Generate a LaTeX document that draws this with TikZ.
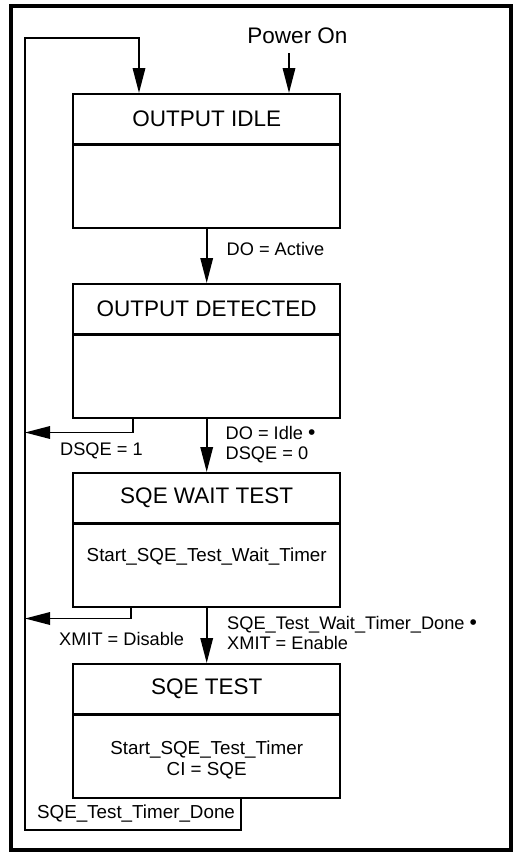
\documentclass[tikz,border=0pt]{standalone}
\usepackage{fontspec}
\setmainfont{Liberation Sans}
\usetikzlibrary{arrows.meta,calc}
\begin{document}
\begin{tikzpicture}[x=1pt,y=-1pt,
  titlebox/.style={draw,line width=1.7pt,minimum width=267pt,minimum height=50pt,inner sep=0pt,anchor=north,font=\fontsize{22.5}{26}\selectfont},
  bodybox/.style={draw,line width=1.7pt,minimum width=267pt,minimum height=82.5pt,inner sep=0pt,anchor=north},
  lbl/.style={inner sep=0pt,anchor=west,align=left,font=\fontsize{18.2}{20}\selectfont},
  txt/.style={inner sep=0pt,align=center,font=\fontsize{18.8}{21}\selectfont},
  arr/.style={line width=1.7pt,-{Triangle[length=25pt,width=12.5pt]}},
  dotmark/.style={}
]
\useasboundingbox (0,0) rectangle (521,855);
\draw[line width=4pt] (10.5,6) rectangle (510.5,850);

% states
\node[titlebox] (s1t) at (206.7,93) {OUTPUT IDLE};
\node[bodybox] (s1b) at (s1t.south) {};
\node[titlebox] (s2t) at (206.7,283) {OUTPUT DETECTED};
\node[bodybox] (s2b) at (s2t.south) {};
\node[titlebox] (s3t) at (206.7,472) {SQE WAIT TEST};
\node[bodybox] (s3b) at (s3t.south) {};
\node[titlebox] (s4t) at (206.7,663) {SQE TEST};
\node[bodybox] (s4b) at (s4t.south) {};

\node[txt] (s3x) at (206.7,556.5) {Start\_SQE\_Test\_Wait\_Timer};
\node[txt] (s4x) at (206.7,760) {Start\_SQE\_Test\_Timer\\CI = SQE};

% power on
\node[inner sep=0pt,font=\fontsize{22.5}{26}\selectfont] (pwr) at (297.5,36) {Power On};
\coordinate (pwrA) at (289,53);
\draw[arr] (pwrA) -- (pwrA |- s1t.north);

% transitions down
\draw[arr] (s1b.south) -- (s2t.north);
\node[lbl] (l1) at (226.5,248.5) {DO = Active};
\draw[arr] (s2b.south) -- (s3t.north);
\node[lbl] (l2) at (225.5,444.5) {DO = Idle {\fontsize{21}{21}\selectfont•}\\DSQE = 0};
\draw[arr] (s3b.south) -- (s4t.north);
\node[lbl] (l3) at (227,632.5) {SQE\_Test\_Wait\_Timer\_Done {\fontsize{21}{21}\selectfont•}\\XMIT = Enable};

% exits to the left
\coordinate (e2) at (133,415);
\coordinate (e2b) at (133,432.5);
\coordinate (loopL) at (25,38);
\draw[arr] (e2 |- s2b.south) -- (e2b) -- (e2b -| loopL);
\node[lbl] (l4) at (60,450.5) {DSQE = 1};
\coordinate (e3) at (131,604);
\coordinate (e3b) at (131,618.5);
\draw[arr] (e3 |- s3b.south) -- (e3b) -- (e3b -| loopL);
\node[lbl] (l5) at (59,639) {XMIT = Disable};

% loop back
\coordinate (fbR) at (241,830);
\coordinate (fbT) at (139,38);
\draw[arr] (fbR |- s4b.south) -- (fbR) -- (fbR -| loopL) -- (loopL) -- (fbT) -- (fbT |- s1t.north);
\node[txt] (l6) at (136,814) {SQE\_Test\_Timer\_Done};
\end{tikzpicture}
\end{document}
